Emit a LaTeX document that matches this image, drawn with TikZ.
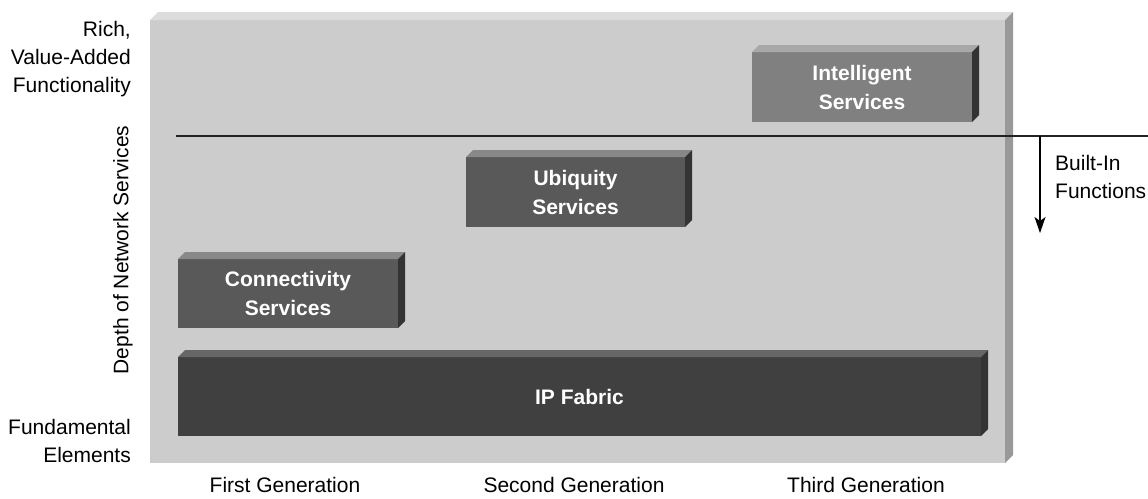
\documentclass[tikz,border=0pt]{standalone}
\usepackage{fontspec}
\setmainfont{Liberation Sans}
\usetikzlibrary{arrows.meta,calc}

\definecolor{bgfront}{HTML}{CCCCCC}
\definecolor{bgtop}{HTML}{DCDCDC}
\definecolor{bgside}{HTML}{999999}
\definecolor{ipfront}{HTML}{404040}
\definecolor{iptop}{HTML}{666666}
\definecolor{midfront}{HTML}{595959}
\definecolor{midtop}{HTML}{888888}
\definecolor{hifront}{HTML}{808080}
\definecolor{hitop}{HTML}{A8A8A8}
\definecolor{darkside}{HTML}{333333}
\definecolor{rule}{HTML}{222222}

% top and right faces of a block whose front face is the named node
\newcommand\blockfaces[4]{%
  \fill[#2] (#1.north west) -- ++(#4,-#4) -- ($(#1.north east)+(#4,-#4)$) -- (#1.north east) -- cycle;
  \fill[#3] (#1.north east) -- ++(#4,-#4) -- ($(#1.south east)+(#4,-#4)$) -- (#1.south east) -- cycle;
}

\tikzset{
  txt/.style={font=\fontsize{21}{28}\selectfont, inner sep=0pt, text=black},
  front/.style={inner sep=0pt, outer sep=0pt, draw=none, align=center,
    text=white, font=\fontsize{21}{29}\selectfont\bfseries},
}

\begin{document}
\begin{tikzpicture}[x=1pt,y=-1pt]
\useasboundingbox (0,0) rectangle (1148,498);

% backdrop slab
\node[front, fill=bgfront, minimum width=855pt, minimum height=443pt] (bg) at (577.5,241.5) {};
\blockfaces{bg}{bgtop}{bgside}{8}

% service layers
\node[front, fill=ipfront, minimum width=803pt, minimum height=79pt] (ip) at (579.5,396.5) {IP Fabric};
\blockfaces{ip}{iptop}{darkside}{7}

\node[front, fill=midfront, minimum width=220pt, minimum height=69pt] (conn) at (288,293.5) {Connectivity\\Services};
\blockfaces{conn}{midtop}{darkside}{7}

\node[front, fill=midfront, minimum width=219pt, minimum height=70pt] (ubi) at (575.5,192) {Ubiquity\\Services};
\blockfaces{ubi}{midtop}{darkside}{7}

\node[front, fill=hifront, minimum width=220pt, minimum height=70pt] (intel) at (862,87) {Intelligent\\Services};
\blockfaces{intel}{hitop}{darkside}{7}

% divider line and arrow
\coordinate (lineL) at (176,136);
\coordinate (lineR) at (1148,136);
\coordinate (arrTop) at (1040,136);
\coordinate (arrEnd) at (1040,233);
\draw[rule, line width=1.3pt] (lineL) -- (lineR);
\draw[black, line width=1.1pt, -{Stealth[length=16pt,width=11pt,inset=4pt]}] (arrTop) -- (arrEnd);
\node[txt, anchor=west, align=left] (built) at (1055,177) {Built-In\\Functions};

% axis labels
\node[txt, anchor=east, align=right] (rich) at (131,59) {Rich,\\Value-Added\\Functionality};
\node[txt, anchor=east, align=right] (fund) at (131,441) {Fundamental\\Elements};
\node[txt, rotate=90] (depth) at (123,250) {Depth of Network Services};

\node[txt, anchor=base] (g1) at (285,492) {First Generation};
\node[txt, anchor=base] (g2) at (574,492) {Second Generation};
\node[txt, anchor=base] (g3) at (866,492) {Third Generation};
\end{tikzpicture}
\end{document}
